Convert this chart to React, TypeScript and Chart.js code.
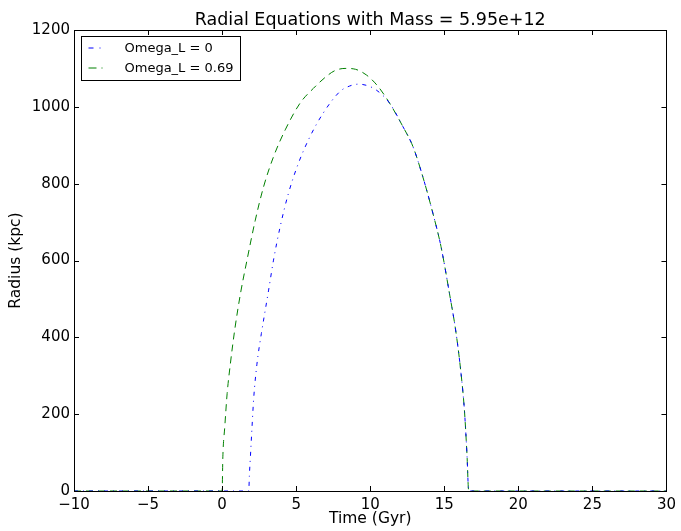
import React, { useEffect, useRef } from "react";
import { Chart, registerables } from "chart.js";

Chart.register(...registerables);

// Omega_L = 0 (blue, dash-dot)
const blueT = [-10, 1.8, 1.84, 1.91, 2.02, 2.13, 2.35, 2.65, 2.8, 3.14, 3.47, 3.92, 4.48, 5.15, 5.94, 6.83, 7.96, 8.6, 9.2, 9.74, 10.4, 11.3, 12.2, 12.88, 13.55, 14.23, 14.78, 15.35, 15.8, 16.13, 16.36, 16.53, 16.65, 30];
const blueR = [0, 0, 40, 89, 167, 240, 330, 410, 445, 523, 601, 688, 775, 853, 923, 984, 1040, 1054, 1059, 1056, 1044, 1010, 949, 897, 818, 723, 636, 514, 410, 306, 210, 97, 0, 0];

// Omega_L = 0.69 (green, dashed)
const greenT = [-10, 0, 0.05, 0.18, 0.34, 0.56, 0.85, 1.24, 1.68, 2.24, 2.8, 3.47, 4.26, 5.27, 6.16, 7.0, 7.6, 8.3, 8.85, 9.74, 10.53, 11.3, 12.2, 12.88, 13.55, 14.23, 14.78, 15.35, 15.8, 16.13, 16.36, 16.53, 16.65, 30];
const greenR = [0, 0, 89, 167, 254, 332, 419, 514, 601, 705, 792, 870, 940, 1010, 1048, 1078, 1094, 1100, 1099, 1083, 1053, 1010, 949, 897, 818, 723, 636, 514, 410, 306, 210, 97, 0, 0];

const seriesLabels = ["Omega_L = 0", "Omega_L = 0.69"];
const titleText = "Radial Equations with Mass = 5.95e+12";
const xTitle = "Time (Gyr)";
const yTitle = "Radius (kpc)";

const FONT = "'DejaVu Sans', sans-serif";
const blueDash = [4, 5, 1, 5];
const greenDash = [7, 5];

const framePlugin = {
  id: "frame",
  afterDatasetsDraw(chart: any) {
    const { ctx, chartArea: a, scales } = chart;
    const xs = scales.x;
    const ys = scales.y;
    ctx.save();
    ctx.strokeStyle = "#000";
    ctx.lineWidth = 1;
    ctx.setLineDash([]);
    const L = 5;
    ctx.beginPath();
    xs.ticks.forEach((t: any) => {
      const p = Math.round(xs.getPixelForValue(t.value)) + 0.5;
      ctx.moveTo(p, a.bottom);
      ctx.lineTo(p, a.bottom - L);
      ctx.moveTo(p, a.top);
      ctx.lineTo(p, a.top + L);
    });
    ys.ticks.forEach((t: any) => {
      const p = Math.round(ys.getPixelForValue(t.value)) + 0.5;
      ctx.moveTo(a.left, p);
      ctx.lineTo(a.left + L, p);
      ctx.moveTo(a.right, p);
      ctx.lineTo(a.right - L, p);
    });
    ctx.stroke();
    ctx.strokeRect(Math.round(a.left) + 0.5, Math.round(a.top) + 0.5, Math.round(a.right - a.left), Math.round(a.bottom - a.top));
    ctx.restore();
  },
  afterDraw(chart: any) {
    const { ctx, chartArea: a } = chart;
    ctx.save();
    // title, centred over the plot area
    ctx.fillStyle = "#000";
    ctx.font = `17.5px ${FONT}`;
    ctx.textAlign = "center";
    ctx.textBaseline = "alphabetic";
    ctx.fillText(titleText, (a.left + a.right) / 2, 25);

    // legend
    const bx = Math.round(a.left) + 7.5;
    const by = Math.round(a.top) + 6.5;
    const bw = 159;
    const bh = 44;
    ctx.fillStyle = "#fff";
    ctx.fillRect(bx, by, bw, bh);
    ctx.strokeStyle = "#000";
    ctx.lineWidth = 1;
    ctx.setLineDash([]);
    ctx.strokeRect(bx, by, bw, bh);
    const items = [
      { color: "#0000ff", dash: [5, 6, 1, 6], label: seriesLabels[0] },
      { color: "#008000", dash: [8, 5], label: seriesLabels[1] },
    ];
    ctx.font = `13px ${FONT}`;
    ctx.textAlign = "left";
    ctx.textBaseline = "middle";
    items.forEach((it, i) => {
      const y = by + 11.5 + i * 20;
      ctx.strokeStyle = it.color;
      ctx.setLineDash(it.dash);
      ctx.beginPath();
      ctx.moveTo(bx + 7, y);
      ctx.lineTo(bx + 21, y);
      ctx.stroke();
      ctx.setLineDash([]);
      ctx.fillStyle = "#000";
      ctx.fillText(it.label, bx + 43, y + 0.5);
    });
    ctx.restore();
  },
};

export default function App() {
  const ref = useRef<HTMLCanvasElement | null>(null);
  useEffect(() => {
    document.body.style.margin = "0";
    const canvas = ref.current!;
    const common = {
      showLine: true,
      borderWidth: 1,
      pointRadius: 0,
      cubicInterpolationMode: "monotone" as const,
    };
    const chart = new Chart(canvas, {
      type: "scatter",
      data: {
        datasets: [
          {
            ...common,
            label: seriesLabels[0],
            data: blueT.map((t, i) => ({ x: t, y: blueR[i] })),
            borderColor: "#0000ff",
            borderDash: blueDash,
          },
          {
            ...common,
            label: seriesLabels[1],
            data: greenT.map((t, i) => ({ x: t, y: greenR[i] })),
            borderColor: "#008000",
            borderDash: greenDash,
          },
        ],
      },
      options: {
        responsive: false,
        animation: false,
        events: [],
        layout: { padding: { left: 0, right: 11, top: 30, bottom: 0 } },
        plugins: {
          legend: { display: false },
          tooltip: { enabled: false },
          title: { display: false },
        },
        scales: {
          x: {
            type: "linear",
            min: -10,
            max: 30,
            grid: { display: false, drawTicks: false },
            border: { display: false },
            ticks: {
              stepSize: 5,
              color: "#000",
              font: { family: FONT, size: 15 },
              padding: 5,
              callback: (v: any) => String(v).replace("-", "\u2212"),
            },
            title: {
              display: true,
              text: xTitle,
              color: "#000",
              font: { family: FONT, size: 15.5 },
              padding: { top: 0, bottom: 3 },
            },
            afterFit: (s: any) => {
              s.height = 40;
            },
          },
          y: {
            type: "linear",
            min: 0,
            max: 1200,
            grid: { display: false, drawTicks: false },
            border: { display: false },
            ticks: {
              stepSize: 200,
              color: "#000",
              font: { family: FONT, size: 15 },
              padding: 4,
              callback: (v: any) => String(v),
            },
            title: {
              display: true,
              text: yTitle,
              color: "#000",
              font: { family: FONT, size: 15.5 },
              padding: { top: 7, bottom: 0 },
            },
            afterFit: (s: any) => {
              s.width = 74;
            },
          },
        },
      },
      plugins: [framePlugin],
    });
    return () => chart.destroy();
  }, []);
  return (
    <div style={{ position: "absolute", left: 0, top: 0, width: 681, height: 531, background: "#fff" }}>
      <canvas ref={ref} width={681} height={531} style={{ width: 681, height: 531, display: "block" }} />
    </div>
  );
}
